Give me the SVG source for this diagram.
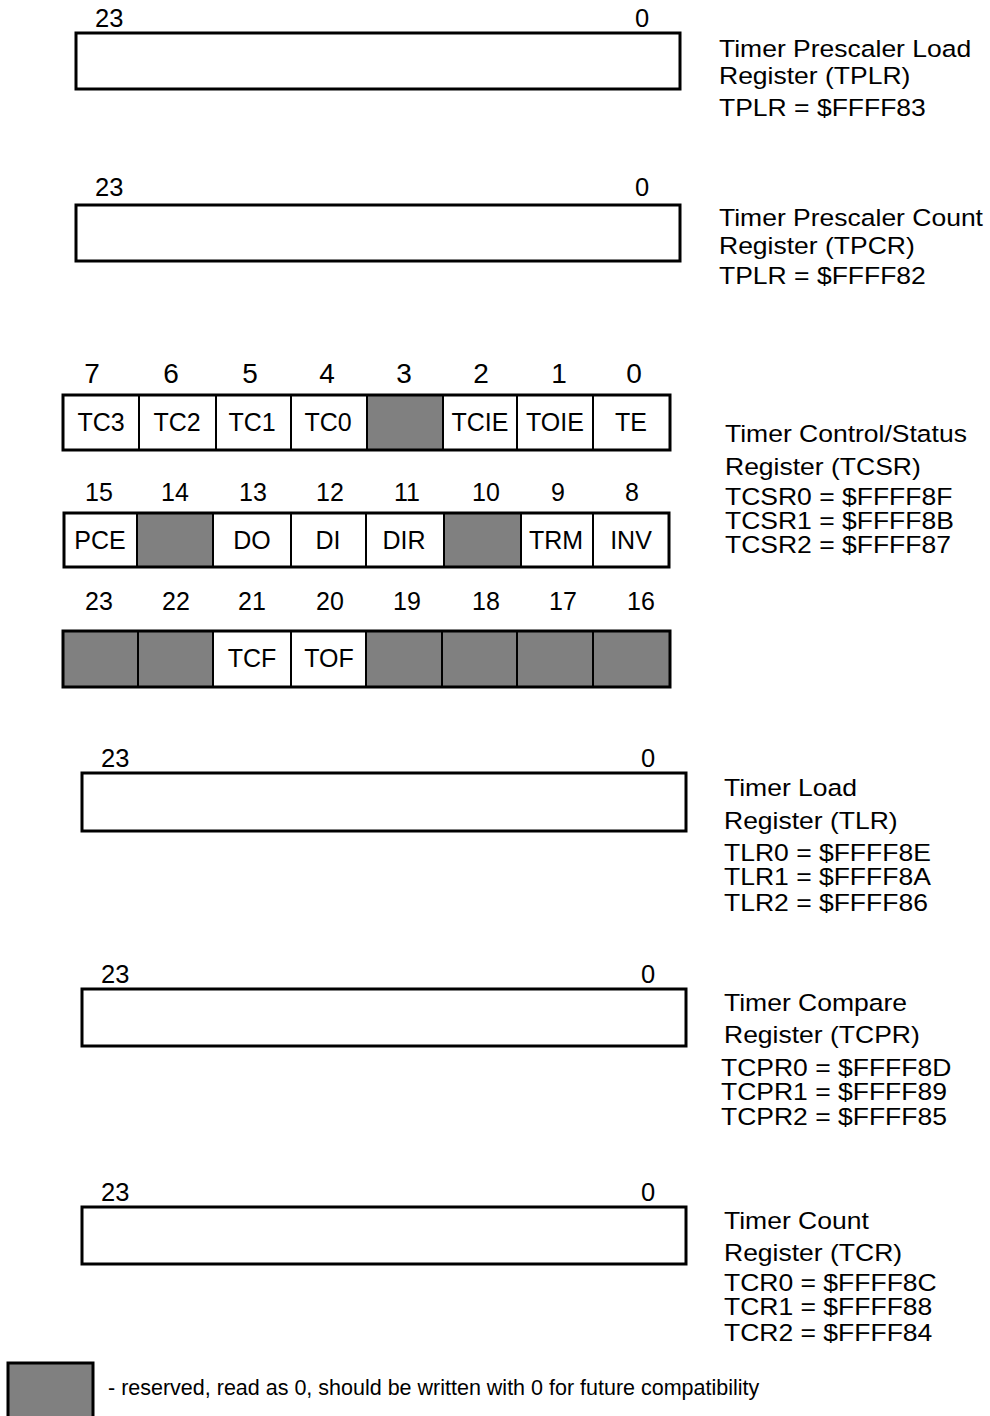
<svg xmlns="http://www.w3.org/2000/svg" width="990" height="1416" viewBox="0 0 990 1416">
<style>
text{font-family:"Liberation Sans",Arial,Helvetica,sans-serif;fill:#000}
.num{font-size:25.5px}
.big{font-size:28px;text-anchor:middle}
.mid{font-size:25px;text-anchor:middle}
.lbl{font-size:25px;text-anchor:middle}
.desc{font-size:23.5px}
.box{fill:#fff;stroke:#000;stroke-width:3}
.cell{fill:#fff;stroke:#000;stroke-width:2}
.res{fill:#808080;stroke:#000;stroke-width:2}
.note{font-size:21.5px}
</style>
<rect width="990" height="1416" fill="#fff"/>

<g id="tplr">
<rect class="box" x="76" y="33" width="604" height="56"/>
<text class="num" x="95" y="27">23</text>
<text class="num" x="635" y="27">0</text>
<g transform="translate(719 0) scale(1.128 1)">
<text class="desc" x="0" y="57">Timer Prescaler Load</text>
<text class="desc" x="0" y="84">Register (TPLR)</text>
<text class="desc" x="0" y="116">TPLR = $FFFF83</text>
</g>
</g>

<g id="tpcr">
<rect class="box" x="76" y="205" width="604" height="56"/>
<text class="num" x="95" y="196">23</text>
<text class="num" x="635" y="196">0</text>
<g transform="translate(719 0) scale(1.128 1)">
<text class="desc" x="0" y="226">Timer Prescaler Count</text>
<text class="desc" x="0" y="254">Register (TPCR)</text>
<text class="desc" x="0" y="284">TPLR = $FFFF82</text>
</g>
</g>

<g id="tcsr">
<g id="tcsr-row0">
<text class="big" x="92" y="383">7</text>
<text class="big" x="171" y="383">6</text>
<text class="big" x="250" y="383">5</text>
<text class="big" x="327" y="383">4</text>
<text class="big" x="404" y="383">3</text>
<text class="big" x="481" y="383">2</text>
<text class="big" x="559" y="383">1</text>
<text class="big" x="634" y="383">0</text>
<rect class="cell" x="63" y="395" width="76" height="55"/>
<rect class="cell" x="139" y="395" width="77" height="55"/>
<rect class="cell" x="216" y="395" width="75" height="55"/>
<rect class="cell" x="291" y="395" width="76" height="55"/>
<rect class="res" x="367" y="395" width="76" height="55"/>
<rect class="cell" x="443" y="395" width="74" height="55"/>
<rect class="cell" x="517" y="395" width="76" height="55"/>
<rect class="cell" x="593" y="395" width="77" height="55"/>
<rect x="63" y="395" width="607" height="55" fill="none" stroke="#000" stroke-width="3"/>
<text class="lbl" x="101" y="431">TC3</text>
<text class="lbl" x="177" y="431">TC2</text>
<text class="lbl" x="252" y="431">TC1</text>
<text class="lbl" x="328" y="431">TC0</text>
<text class="lbl" x="480" y="431">TCIE</text>
<text class="lbl" x="555" y="431">TOIE</text>
<text class="lbl" x="631" y="431">TE</text>
</g>
<g id="tcsr-row1">
<text class="mid" x="99" y="501">15</text>
<text class="mid" x="175" y="501">14</text>
<text class="mid" x="253" y="501">13</text>
<text class="mid" x="330" y="501">12</text>
<text class="mid" x="407" y="501">11</text>
<text class="mid" x="486" y="501">10</text>
<text class="mid" x="558" y="501">9</text>
<text class="mid" x="632" y="501">8</text>
<rect class="cell" x="64" y="513" width="73" height="54"/>
<rect class="res" x="137" y="513" width="76" height="54"/>
<rect class="cell" x="213" y="513" width="78" height="54"/>
<rect class="cell" x="291" y="513" width="75" height="54"/>
<rect class="cell" x="366" y="513" width="78" height="54"/>
<rect class="res" x="444" y="513" width="77" height="54"/>
<rect class="cell" x="521" y="513" width="72" height="54"/>
<rect class="cell" x="593" y="513" width="76" height="54"/>
<rect x="64" y="513" width="605" height="54" fill="none" stroke="#000" stroke-width="3"/>
<text class="lbl" x="100" y="549">PCE</text>
<text class="lbl" x="252" y="549">DO</text>
<text class="lbl" x="328" y="549">DI</text>
<text class="lbl" x="404" y="549">DIR</text>
<text class="lbl" x="556" y="549">TRM</text>
<text class="lbl" x="631" y="549">INV</text>
</g>
<g id="tcsr-row2">
<text class="mid" x="99" y="610">23</text>
<text class="mid" x="176" y="610">22</text>
<text class="mid" x="252" y="610">21</text>
<text class="mid" x="330" y="610">20</text>
<text class="mid" x="407" y="610">19</text>
<text class="mid" x="486" y="610">18</text>
<text class="mid" x="563" y="610">17</text>
<text class="mid" x="641" y="610">16</text>
<rect class="res" x="63" y="631" width="75" height="56"/>
<rect class="res" x="138" y="631" width="75" height="56"/>
<rect class="cell" x="213" y="631" width="78" height="56"/>
<rect class="cell" x="291" y="631" width="75" height="56"/>
<rect class="res" x="366" y="631" width="76" height="56"/>
<rect class="res" x="442" y="631" width="75" height="56"/>
<rect class="res" x="517" y="631" width="76" height="56"/>
<rect class="res" x="593" y="631" width="77" height="56"/>
<rect x="63" y="631" width="607" height="56" fill="none" stroke="#000" stroke-width="3"/>
<text class="lbl" x="252" y="667">TCF</text>
<text class="lbl" x="329" y="667">TOF</text>
</g>
<g transform="translate(725 0) scale(1.128 1)">
<text class="desc" x="0" y="442">Timer Control/Status</text>
<text class="desc" x="0" y="475">Register (TCSR)</text>
<text class="desc" x="0" y="505">TCSR0 = $FFFF8F</text>
<text class="desc" x="0" y="529">TCSR1 = $FFFF8B</text>
<text class="desc" x="0" y="553">TCSR2 = $FFFF87</text>
</g>
</g>

<g id="tlr">
<rect class="box" x="82" y="773" width="604" height="58"/>
<text class="num" x="101" y="767">23</text>
<text class="num" x="641" y="767">0</text>
<g transform="translate(724 0) scale(1.128 1)">
<text class="desc" x="0" y="796">Timer Load</text>
<text class="desc" x="0" y="829">Register (TLR)</text>
<text class="desc" x="0" y="861">TLR0 = $FFFF8E</text>
<text class="desc" x="0" y="885">TLR1 = $FFFF8A</text>
<text class="desc" x="0" y="911">TLR2 = $FFFF86</text>
</g>
</g>

<g id="tcpr">
<rect class="box" x="82" y="989" width="604" height="57"/>
<text class="num" x="101" y="983">23</text>
<text class="num" x="641" y="983">0</text>
<g transform="translate(724 0) scale(1.128 1)">
<text class="desc" x="0" y="1011">Timer Compare</text>
<text class="desc" x="0" y="1043">Register (TCPR)</text>
<text class="desc" x="-2.7" y="1076">TCPR0 = $FFFF8D</text>
<text class="desc" x="-2.7" y="1100">TCPR1 = $FFFF89</text>
<text class="desc" x="-2.7" y="1125">TCPR2 = $FFFF85</text>
</g>
</g>

<g id="tcr">
<rect class="box" x="82" y="1207" width="604" height="57"/>
<text class="num" x="101" y="1201">23</text>
<text class="num" x="641" y="1201">0</text>
<g transform="translate(724 0) scale(1.128 1)">
<text class="desc" x="0" y="1229">Timer Count</text>
<text class="desc" x="0" y="1261">Register (TCR)</text>
<text class="desc" x="0" y="1291">TCR0 = $FFFF8C</text>
<text class="desc" x="0" y="1315">TCR1 = $FFFF88</text>
<text class="desc" x="0" y="1341">TCR2 = $FFFF84</text>
</g>
</g>

<g id="legend">
<rect x="8" y="1363" width="85" height="56" fill="#808080" stroke="#000" stroke-width="3"/>
<text class="note" x="108" y="1395">- reserved, read as 0, should be written with 0 for future compatibility</text>
</g>
</svg>
